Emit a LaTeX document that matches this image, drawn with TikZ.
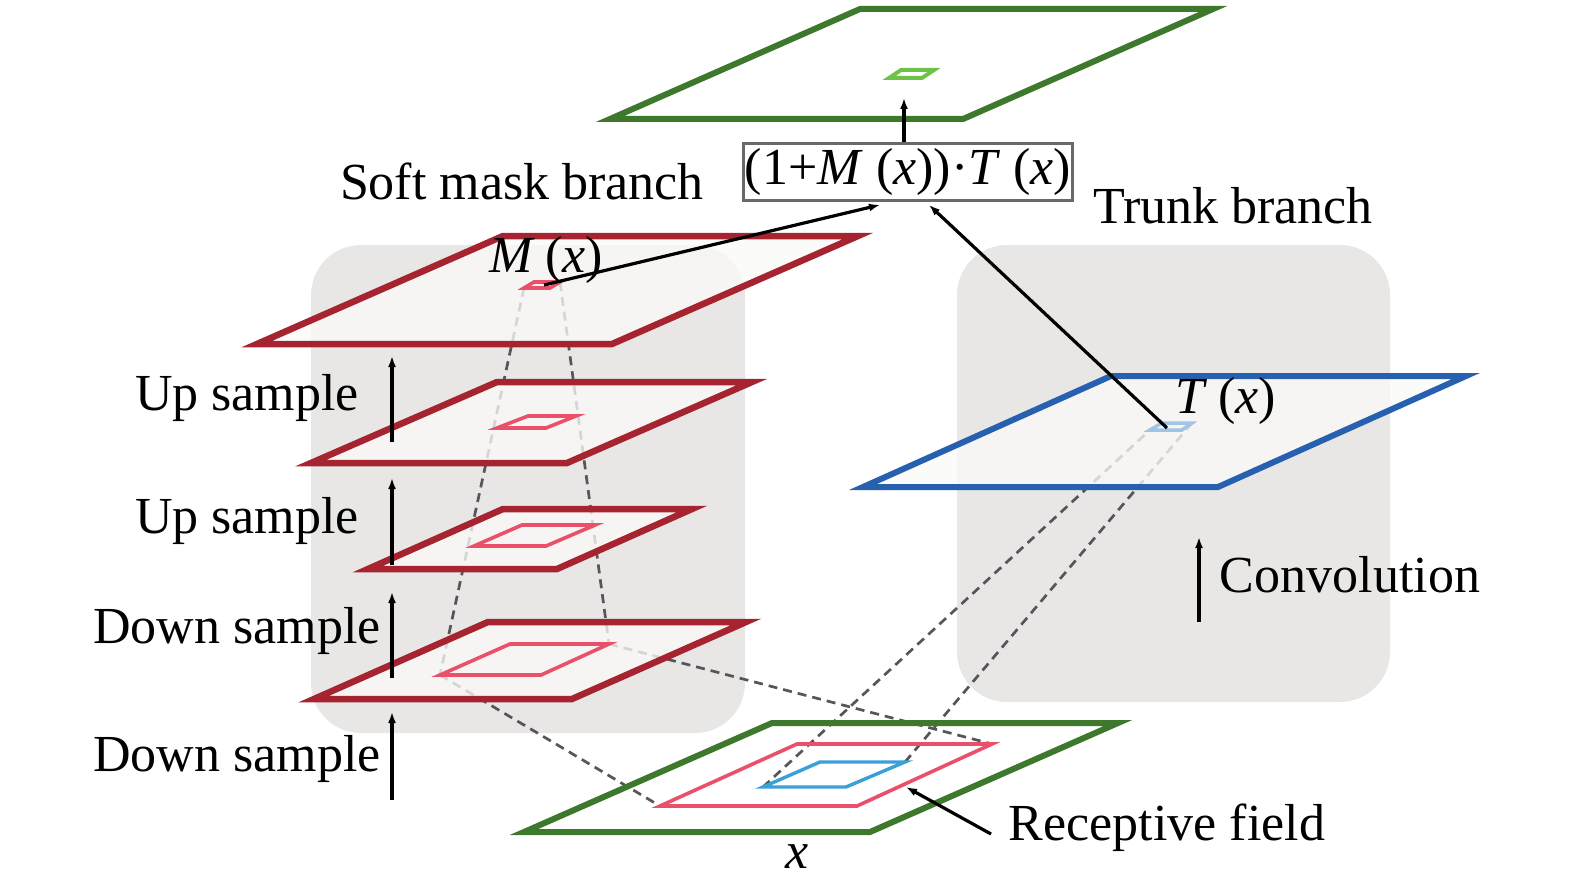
\documentclass[tikz,border=0pt]{standalone}
\usepackage{fontspec}
\setmainfont{Liberation Serif}
\usetikzlibrary{arrows.meta}
\definecolor{bgray}{RGB}{232,231,230}
\definecolor{pfill}{RGB}{250,250,249}
\definecolor{dred}{RGB}{166,36,48}
\definecolor{pinkc}{RGB}{234,80,106}
\definecolor{dgreen}{RGB}{62,120,44}
\definecolor{lgreen}{RGB}{110,195,70}
\definecolor{dblue}{RGB}{40,96,176}
\definecolor{lblue}{RGB}{58,160,216}
\definecolor{pblue}{RGB}{160,196,230}
\definecolor{dashc}{RGB}{85,85,90}
\definecolor{boxc}{RGB}{105,105,105}
\begin{document}
\begin{tikzpicture}[x=1pt,y=-1pt,
  lbl/.style={font=\fontsize{52}{60}\selectfont, inner sep=0pt, anchor=base},
  bgbox/.style={fill=bgray, rounded corners=50pt},
  plane/.style={line width=6.5pt, fill=pfill, fill opacity=0.78},
  redplane/.style={plane, draw=dred},
  blueplane/.style={plane, draw=dblue, line width=6pt},
  greenplane/.style={line width=6pt, draw=dgreen},
  inner/.style={line width=3.6pt, draw=pinkc},
  rf/.style={dashed, dash pattern=on 9pt off 6pt, line width=2.7pt, draw=dashc},
  arr/.style={line width=3.2pt, -{Latex[length=11pt,width=8pt]}},
]
\useasboundingbox (0,0) rectangle (1575,888);

% backgrounds
\path[bgbox] (311,245) rectangle (745,733);
\path[bgbox] (957,245) rectangle (1390,702);

% named points
\coordinate (aBL) at (524,288); \coordinate (aTR) at (560,282);
\coordinate (dBL) at (440,675); \coordinate (dTR) at (609,644);
\coordinate (xpBL) at (660,806); \coordinate (xpTR) at (992,744);
\coordinate (xbBL) at (763,787); \coordinate (xbTR) at (905,762);
\coordinate (tBL) at (1150,430); \coordinate (tTR) at (1192,423);

% dashed receptive-field lines
\draw[rf] (aBL) -- (dBL);
\draw[rf] (aTR) -- (dTR);
\draw[rf] (dBL) -- (xpBL);
\draw[rf] (dTR) -- (xpTR);
\draw[rf] (xbBL) -- (tBL);
\draw[rf] (xbTR) -- (tTR);

% top output plane
\draw[greenplane] (860,9) -- (1213,9) -- (963,119) -- (610,119) -- cycle;
\draw[line width=4pt, draw=lgreen] (901,70) -- (934,70) -- (922,78) -- (889,78) -- cycle;

% soft mask branch planes
\draw[redplane] (503,236) -- (858,236) -- (612,344) -- (257,344) -- cycle;
\draw[inner] (534,282) -- (560,282) -- (550,288) -- (524,288) -- cycle;
\draw[redplane] (497,382) -- (752,382) -- (567,463) -- (311,463) -- cycle;
\draw[inner] (528,416) -- (576,416) -- (546,428) -- (497,428) -- cycle;
\draw[redplane] (503,509) -- (692,509) -- (557,569) -- (368,569) -- cycle;
\draw[inner] (522,525) -- (595,525) -- (546,546) -- (474,546) -- cycle;
\draw[redplane] (488,622) -- (746,622) -- (572,699) -- (314,699) -- cycle;
\draw[inner] (510,644) -- (609,644) -- (541,675) -- (440,675) -- cycle;

% trunk plane
\draw[blueplane] (1111,376) -- (1466,376) -- (1218,487) -- (863,487) -- cycle;
\draw[line width=3.5pt, draw=pblue] (1162,423) -- (1192,423) -- (1182,430) -- (1150,430) -- cycle;

% input plane
\draw[greenplane] (772,723) -- (1118,723) -- (870,832) -- (524,832) -- cycle;
\draw[inner] (797,744) -- (992,744) -- (857,806) -- (660,806) -- cycle;
\draw[line width=3.4pt, draw=lblue] (820,762) -- (905,762) -- (846,787) -- (763,787) -- cycle;

% combination box
\node[draw=boxc, line width=2.8pt, fill=white, minimum width=329pt, minimum height=57pt, inner sep=0pt,
      font=\fontsize{52}{60}\selectfont] (box) at (908,172)
  {(1+\textit{M}\hspace{0.25em}(\textit{x}))·\textit{T}\hspace{0.25em}(\textit{x})};
\coordinate (boxM) at ([xshift=-28pt,yshift=-3pt]box.south);
\coordinate (boxT) at ([xshift=21pt,yshift=-3pt]box.south);
\coordinate (boxU) at ([xshift=-4pt]box.north);
\coordinate (topin) at (904,98);
\coordinate (mtip) at (544,285);
\coordinate (ttip) at (1167,428);

\draw[arr] (boxU) -- (topin);
\draw[arr] (mtip) -- (boxM);
\draw[arr] (ttip) -- (boxT);

% labels
\node[lbl] (lsoft) at (522,200) {Soft mask branch};
\node[lbl] (ltrunk) at (1233,223) {Trunk branch};
\node[lbl] (lup1) at (247,410) {Up sample};
\node[lbl] (lup2) at (247,533) {Up sample};
\node[lbl] (ldown1) at (237,643) {Down sample};
\node[lbl] (ldown2) at (237,771) {Down sample};
\node[lbl] (lconv) at (1350,592) {Convolution};
\node[lbl] (lrec) at (1167,840) {Receptive field};
\node[lbl] (lx) at (797,868) {\textit{x}};
\node[lbl] (lM) at (546,272) {\textit{M}\hspace{0.2em}(\textit{x})};
\node[lbl] (lT) at (1226,413) {\textit{T}\hspace{0.2em}(\textit{x})};

% vertical arrows
\coordinate (u1s) at (392,442); \coordinate (u1e) at (392,356);
\coordinate (u2s) at (392,565); \coordinate (u2e) at (392,478);
\coordinate (d1s) at (392,678); \coordinate (d1e) at (392,592);
\coordinate (d2s) at (392,800); \coordinate (d2e) at (392,712);
\coordinate (cs) at (1199,622); \coordinate (ce) at (1199,537);
\draw[arr] (u1s) -- (u1e);
\draw[arr] (u2s) -- (u2e);
\draw[arr] (d1s) -- (d1e);
\draw[arr] (d2s) -- (d2e);
\draw[arr] (cs) -- (ce);

% receptive field pointer
\coordinate (rs) at (991,834); \coordinate (re) at (906,787);
\draw[arr] (rs) -- (re);
\end{tikzpicture}
\end{document}
